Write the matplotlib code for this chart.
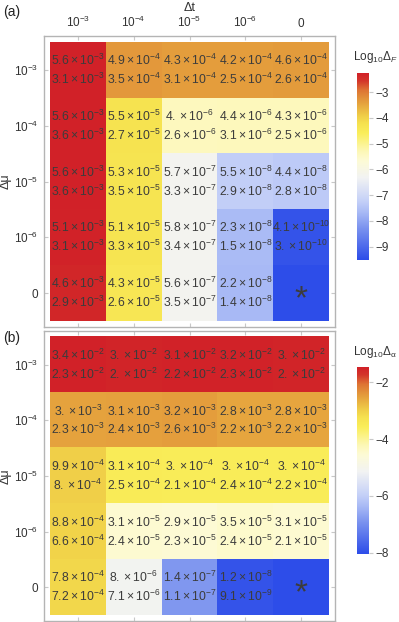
import numpy as np
import matplotlib
matplotlib.use('Agg')
import matplotlib.pyplot as plt
from matplotlib.colors import LinearSegmentedColormap, Normalize

plt.rcParams['font.family'] = ['Liberation Sans', 'DejaVu Sans']
plt.rcParams['mathtext.fontset'] = 'custom'
plt.rcParams['mathtext.rm'] = 'Liberation Sans'
plt.rcParams['mathtext.it'] = 'Liberation Sans:italic'
plt.rcParams['mathtext.default'] = 'regular'

# ---------------- data ----------------
dt_labels = [r'$10^{-3}$', r'$10^{-4}$', r'$10^{-5}$', r'$10^{-6}$', '0']
dmu_labels = [r'$10^{-3}$', r'$10^{-4}$', r'$10^{-5}$', r'$10^{-6}$', '0']

# panel (a): Delta_F, upper (color) and lower values ; None = reference cell (*)
a_top = [[5.6e-3, 4.9e-4, 4.3e-4, 4.2e-4, 4.6e-4],
         [5.6e-3, 5.5e-5, 4.0e-6, 4.4e-6, 4.3e-6],
         [5.6e-3, 5.3e-5, 5.7e-7, 5.5e-8, 4.4e-8],
         [5.1e-3, 5.1e-5, 5.8e-7, 2.3e-8, 4.1e-10],
         [4.6e-3, 4.3e-5, 5.6e-7, 2.2e-8, None]]
a_bot = [[3.1e-3, 3.5e-4, 3.1e-4, 2.5e-4, 2.6e-4],
         [3.6e-3, 2.7e-5, 2.6e-6, 3.1e-6, 2.5e-6],
         [3.6e-3, 3.5e-5, 3.3e-7, 2.9e-8, 2.8e-8],
         [3.1e-3, 3.3e-5, 3.4e-7, 1.5e-8, 3.0e-10],
         [2.9e-3, 2.6e-5, 3.5e-7, 1.4e-8, None]]

# panel (b): Delta_alpha
b_top = [[3.4e-2, 3.0e-2, 3.1e-2, 3.2e-2, 3.0e-2],
         [3.0e-3, 3.1e-3, 3.2e-3, 2.8e-3, 2.8e-3],
         [9.9e-4, 3.1e-4, 3.0e-4, 3.0e-4, 3.0e-4],
         [8.8e-4, 3.1e-5, 2.9e-5, 3.5e-5, 3.1e-5],
         [7.8e-4, 8.0e-6, 1.4e-7, 1.2e-8, None]]
b_bot = [[2.3e-2, 2.0e-2, 2.2e-2, 2.3e-2, 2.0e-2],
         [2.3e-3, 2.4e-3, 2.6e-3, 2.2e-3, 2.2e-3],
         [8.0e-4, 2.5e-4, 2.1e-4, 2.4e-4, 2.2e-4],
         [6.6e-4, 2.4e-5, 2.3e-5, 2.4e-5, 2.1e-5],
         [7.2e-4, 7.1e-6, 1.1e-7, 9.1e-9, None]]

cbar_a_ticks = [-3, -4, -5, -6, -7, -8, -9]
cbar_b_ticks = [-2, -4, -6, -8]

# ---------------- style ----------------
cmap = LinearSegmentedColormap.from_list('temp', [
    (0.00, '#2d4de9'),
    (0.17, '#7b93ef'),
    (0.25, '#a6b8f5'),
    (0.31, '#c3cff8'),
    (0.44, '#f2f3f3'),
    (0.53, '#fdfbd6'),
    (0.58, '#fdf8b8'),
    (0.68, '#faee5a'),
    (0.73, '#f6e250'),
    (0.77, '#f0cf48'),
    (0.85, '#e49c3c'),
    (0.91, '#de7434'),
    (0.96, '#d4352b'),
    (1.00, '#d12128'),
])

W, H = 399, 622
TXT = '#3c3c3c'
FRAME = '#b4b4b4'


def fmt(v):
    m, e = f'{v:.1e}'.split('e')
    e = int(e)
    if m.endswith('.0'):
        m = m[:-1]
    return r'$%s\times10^{%d}$' % (m, e)


def to_arr(lst):
    return np.array([[np.nan if v is None else v for v in row] for row in lst], dtype=float)


def panel(frame_px, cbar_px, top, bot, title_y, ctitle, cticks, show_top, plabel, plabel_y):
    fx0, fy0, fx1, fy1 = frame_px
    ax = fig.add_axes([fx0 / W, 1 - fy1 / H, (fx1 - fx0) / W, (fy1 - fy0) / H])
    T = to_arr(top)
    B = to_arr(bot)
    allv = np.concatenate([T[~np.isnan(T)], B[~np.isnan(B)]])
    vmin, vmax = np.log10(allv.min()), np.log10(allv.max())
    logT = np.log10(T)
    logT = np.where(np.isnan(logT), vmin, logT)
    norm = Normalize(vmin, vmax)
    ax.imshow(logT, cmap=cmap, norm=norm, extent=(-0.5, 4.5, 4.5, -0.5),
              aspect='auto', interpolation='nearest')
    pad = 6 / 55.8
    ax.set_xlim(-0.5 - pad, 4.5 + pad)
    ax.set_ylim(4.5 + pad, -0.5 - pad)
    for s in ax.spines.values():
        s.set_color(FRAME)
        s.set_linewidth(1.0)
    ax.set_xticks(range(5))
    ax.set_yticks(range(5))
    ax.tick_params(which='both', direction='in', length=3, color='#c8c8c8',
                   top=True, right=True, bottom=True, left=True,
                   labeltop=show_top, labelbottom=False, labelsize=8.5,
                   labelcolor='#333333', pad=4)
    ax.set_xticklabels(dt_labels)
    ax.set_yticklabels(dmu_labels)
    if show_top:
        ax.xaxis.set_label_position('top')
        ax.set_xlabel('Δt', fontsize=9, color='#333333', labelpad=3)
    ax.set_ylabel('Δμ', fontsize=9, color='#333333', labelpad=2)
    for i in range(5):
        for j in range(5):
            if np.isnan(T[i, j]):
                ax.text(j, i + 0.12, '*', ha='center', va='center', fontsize=24,
                        color=TXT, fontweight='normal')
            else:
                ax.text(j, i - 0.17, fmt(T[i, j]), ha='center', va='center',
                        fontsize=8.8, color=TXT)
                ax.text(j, i + 0.17, fmt(B[i, j]), ha='center', va='center',
                        fontsize=8.8, color=TXT)
    # colorbar
    cx0, cy0, cx1, cy1 = cbar_px
    cax = fig.add_axes([cx0 / W, 1 - cy1 / H, (cx1 - cx0) / W, (cy1 - cy0) / H])
    grad = np.linspace(vmin, vmax, 256).reshape(-1, 1)
    cax.imshow(grad, cmap=cmap, norm=norm, aspect='auto', origin='lower',
               extent=(0, 1, vmin, vmax))
    cax.set_xlim(0, 1)
    cax.set_ylim(vmin, vmax)
    cax.set_xticks([])
    cax.yaxis.tick_right()
    cax.set_yticks(cticks)
    cax.set_yticklabels(['−%d' % (-t) for t in cticks])
    cax.tick_params(axis='y', direction='out', length=3, color='#c8c8c8',
                    labelsize=8.5, labelcolor='#333333', pad=2)
    for s in cax.spines.values():
        s.set_visible(False)
    fig.text(375 / W, 1 - title_y / H, ctitle, ha='center', va='center',
             fontsize=8.5, color='#333333')
    fig.text(3 / W, 1 - plabel_y / H, plabel, ha='left', va='center', fontsize=10, color='#222222')


fig = plt.figure(figsize=(W / 100, H / 100), dpi=100)
panel((44, 36, 335, 327), (357, 73, 369, 260), a_top, a_bot, 57,
      r'$\mathrm{Log}_{10}\Delta_{\mathit{F}}$',
      cbar_a_ticks, True, '(a)', 12)
panel((44, 331, 335, 621), (357, 367, 369, 554), b_top, b_bot, 352,
      r'$\mathrm{Log}_{10}\Delta_{\alpha}$', cbar_b_ticks, False, '(b)', 338)

fig.savefig('out.png', dpi=100)
